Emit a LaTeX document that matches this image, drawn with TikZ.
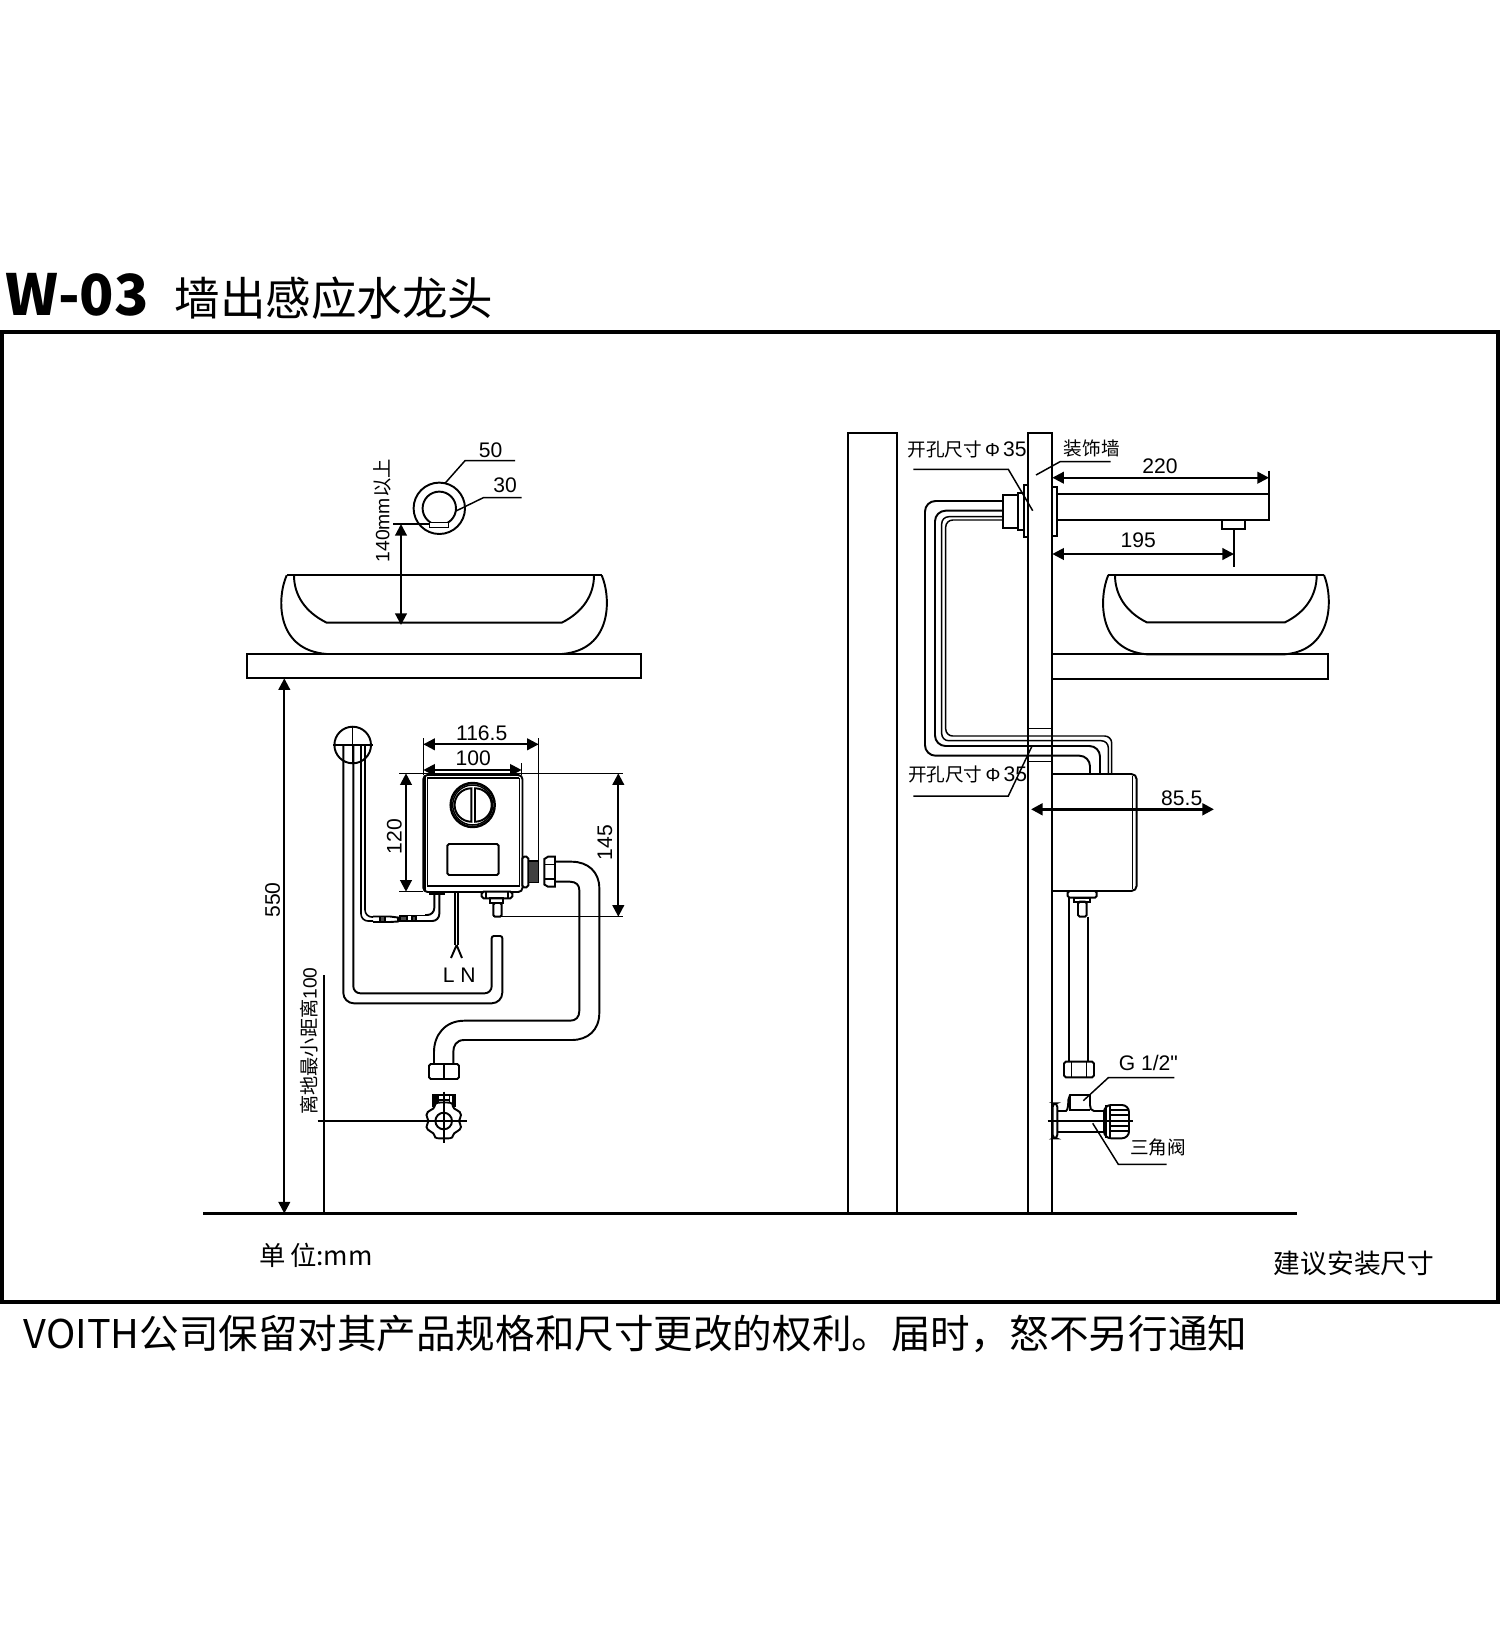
\documentclass[tikz,border=0pt]{standalone}
\usepackage{fontspec}
\setmainfont{Noto Sans CJK SC}
\newfontfamily\latinfont{Liberation Sans}
\usetikzlibrary{arrows.meta}
\tikzset{
  part/.style={line width=0.55pt},
  thinpart/.style={line width=0.42pt},
  dimline/.style={line width=0.6pt,{Triangle[length=3.3pt,width=3.3pt]}-{Triangle[length=3.3pt,width=3.3pt]}},
  dimtext/.style={font=\latinfont\fontsize{6}{6}\selectfont,inner sep=0pt},
  cjktext/.style={font=\fontsize{5.3}{6}\selectfont,inner sep=0pt},
}
\begin{document}
\begin{tikzpicture}[x=0.01cm,y=-0.01cm]
\useasboundingbox (0,0) rectangle (1500,1651);

% title and frame
\node[inner sep=0pt,anchor=west,font=\bfseries\fontsize{16.1}{18}\selectfont] (title) at (5,295) {W-03};
\node[inner sep=0pt,anchor=west,font=\fontsize{12.95}{14}\selectfont] (subtitle) at (174,298) {墙出感应水龙头};
\draw[line width=1.2pt] (2,332) rectangle (1498,1302);
\node[inner sep=0pt,anchor=west,font=\fontsize{11.25}{13}\selectfont] (notice) at (23,1334) {VOITH公司保留对其产品规格和尺寸更改的权利。届时，怒不另行通知};
\node[inner sep=0pt,font=\fontsize{7.5}{9}\selectfont] (unit) at (316,1255) {单\,位:mm};
\node[inner sep=0pt,font=\fontsize{7.6}{9}\selectfont] (advice) at (1354,1263) {建议安装尺寸};
\draw[line width=0.6pt] (203,1213.5) -- (1297,1213.5);

% left view: basin and shelf
\draw[part] (286.7,575.3) -- (601.7,575.3);
\draw[part] (286.7,575.3) .. controls (277,597) and (275,650) .. (326.7,654) -- (561.7,654) .. controls (613,650) and (611,597) .. (601.7,575.3);
\draw[part] (294,575.3) .. controls (294,595) and (305,612) .. (326.7,622.7) -- (561.7,622.7) .. controls (583,612) and (594,595) .. (594,575.3);
\draw[part] (247.3,654) rectangle (641,678.3);

% left view: spout section
\draw[part] (439.3,508.3) circle (25.7);
\draw[part] (439.3,508.3) circle (16.7);
\draw[thinpart,fill=white] (429.3,522.7) rectangle (448.3,527.3);
\draw[thinpart] (445,483.3) -- (465,460.7) -- (515,460.7);
\draw[thinpart] (456,511) -- (483.3,497.7) -- (521.7,497.7);
\node[dimtext] (dfifty) at (490.7,450) {50};
\node[dimtext] (dthirty) at (505,485) {30};
\draw[part] (393.3,524) -- (430,524);
\draw[dimline] (401,524) -- (401,625);
\node[dimtext,rotate=90,font=\latinfont\fontsize{5.5}{6}\selectfont] (dclear) at (382.3,510.8) {140mm{\fontspec{Noto Sans CJK SC}以上}};

% left view: height dimensions
\draw[dimline] (284.3,678.3) -- (284.3,1213.5);
\node[dimtext,rotate=90] (dshelf) at (272.6,900) {550};
\draw[part] (324,975) -- (324,1213.5);
\draw[part] (317.7,1121) -- (466.7,1121);
\node[dimtext,rotate=90,font=\latinfont\fontsize{5.45}{6}\selectfont] (dfloor) at (309.3,1041) {{\fontspec{Noto Sans CJK SC}离地最小距离}100};

% left view: control box
\draw[part,rounded corners=1.2pt,fill=white] (423.3,775) rectangle (522.5,892);
\draw[part] (424.6,776.3) -- (424.6,890);
\draw[thinpart] (427.3,778) -- (519.3,778) (427.3,778) -- (427.3,886) -- (519.3,886) -- (519.3,778);
\draw[line width=0.7pt] (472.7,805) circle (22);
\draw[thinpart] (472.7,805) circle (20);
\draw[part] (471.3,788.3) arc (270:90:16.7) -- cycle;
\draw[part] (475,788.3) arc (-90:90:16.7) -- cycle;
\draw[part,rounded corners=0.5pt] (447.3,844) rectangle (498.7,875);

% left view: box dimensions
\draw[thinpart] (423.3,738) -- (423.3,775);
\draw[thinpart] (538.7,738) -- (538.7,882);
\draw[thinpart] (521.7,763) -- (521.7,775);
\draw[dimline] (423.3,744.3) -- (538.7,744.3);
\draw[dimline] (423.3,770) -- (521.7,770);
\node[dimtext] (dboxb) at (481.7,733.3) {116.5};
\node[dimtext] (dboxa) at (473.3,758.3) {100};
\draw[thinpart] (399.3,773.3) -- (622.7,773.3);
\draw[thinpart] (399.3,891.7) -- (423.3,891.7);
\draw[thinpart] (493.3,916.7) -- (622.7,916.7);
\draw[dimline] (406,773.3) -- (406,891.7);
\draw[dimline] (618.3,773.3) -- (618.3,916.7);
\node[dimtext,rotate=90] (dboxh) at (394.3,836.7) {120};
\node[dimtext,rotate=90] (dinlet) at (605,842.7) {145};

% left view: fittings under the box
\draw[part] (430,891.7) rectangle (444,894.3);
\draw[part,rounded corners=2pt] (434.3,894.3) -- (434.3,915) -- (425,915);
\draw[part,rounded corners=2pt] (439.3,894.3) -- (439.3,921) -- (425,921);
\draw[part,fill=black!70] (400,916) -- (407,916) -- (407,921) -- (400,921) -- cycle;
\draw[part] (407,915.5) -- (425,915.5) (407,921) -- (425,921);
\draw[part,fill=black!70] (412,916) rectangle (416,921);
\draw[part] (373,916.5) -- (390,916.5) -- (398,917.5) -- (398,921.5) -- (390,922) -- (373,922);
\draw[part,fill=black!70] (380,916.5) rectangle (385,922);
\draw[line width=0.45pt,rounded corners=2pt] (361,745) -- (361,921) -- (373,921);
\draw[line width=0.45pt,rounded corners=2pt] (365,745) -- (365,917) -- (373,917);
\draw[part] (455,892) -- (455,945) (458.3,892) -- (458.3,945);
\draw[part] (456.6,945) -- (451,958) (456.6,945) -- (462,958);
\node[dimtext] (lnlabel) at (459.3,975.7) {L N};
\draw[part,fill=white,rounded corners=0.5pt] (481.7,891.7) rectangle (512.3,898.3);
\draw[thinpart] (486,891.7) -- (486,898.3) (508,891.7) -- (508,898.3);
\draw[part] (490,898.3) rectangle (503,903);
\draw[part,rounded corners=0.5pt] (493.3,903) rectangle (501.7,916.7);

% left view: big pipe
\draw[part] (352.7,745) circle (18.3);
\draw[thinpart] (333.3,745) -- (372.7,745) (352.7,726.7) -- (352.7,763.3);
\draw[part,rounded corners=3pt] (343.3,745) -- (343.3,1003.3) -- (502.3,1003.3) [rounded corners=0.6pt] -- (502.3,936) -- (491.7,936) [rounded corners=2pt] -- (491.7,993.3) -- (353.3,993.3) -- (353.3,745);

% left view: hose and valve
\draw[part,fill=white,rounded corners=0.5pt] (522.3,856.7) rectangle (528.3,887.3);
\draw[line width=0.3pt,fill=black!75] (528.3,861) rectangle (538.3,882.7);
\draw[part,fill=white] (544.3,859) -- (548,856.7) -- (555,856.7) -- (555,886.7) -- (548,886.7) -- (544.3,884.5) -- cycle;
\draw[thinpart] (544.3,864.5) -- (555,864.5) (544.3,879) -- (555,879);
\draw[part] (555,861.7) -- (571.7,861.7) .. controls (588,861.7) and (599.3,872) .. (599.3,888) -- (599.3,1013) .. controls (599.3,1030) and (588,1040) .. (571.7,1040) -- (464.3,1040) .. controls (456,1040) and (453.3,1046) .. (453.3,1052) -- (453.3,1064);
\draw[part] (555,881.7) -- (570,881.7) .. controls (576,881.7) and (579.3,885) .. (579.3,890) -- (579.3,1011) .. controls (579.3,1017) and (576,1020.7) .. (570,1020.7) -- (464.3,1020.7) .. controls (445,1020.7) and (434,1035) .. (434,1052) -- (434,1064);
\draw[part,rounded corners=0.5pt] (429,1064) rectangle (459,1079);
\draw[part] (443.7,1064) -- (443.7,1079);
\draw[part,line width=0.7pt] (433.3,1107) -- (433.3,1095) -- (455,1095) -- (455,1107);
\draw[line width=1pt] (435,1096) -- (435,1107) (453.3,1096) -- (453.3,1107);
\draw[thinpart] (438,1095) -- (438,1107) (449.7,1095) -- (449.7,1107) (438,1100) -- (449.7,1100);
\draw[part,fill=white] (443.7,1102.5) .. controls (449,1102.5) and (453,1102) .. (453,1106.5) .. controls (453,1110) and (461,1110) .. (461,1115) .. controls (461,1118) and (459,1119) .. (459,1121) .. controls (459,1123) and (461,1124) .. (461,1127) .. controls (461,1131) and (453,1132) .. (453,1135.5) .. controls (453,1139) and (448,1138.3) .. (443.7,1138.3) .. controls (439,1138.3) and (434.5,1139) .. (434.5,1135.5) .. controls (434.5,1132) and (426.5,1131) .. (426.5,1127) .. controls (426.5,1124) and (428.5,1123) .. (428.5,1121) .. controls (428.5,1119) and (426.5,1118) .. (426.5,1115) .. controls (426.5,1110) and (434.5,1110) .. (434.5,1106.5) .. controls (434.5,1102) and (439,1102.5) .. (443.7,1102.5) -- cycle;
\draw[part] (443.7,1121) circle (8.3);
\draw[part] (426,1121) -- (466.7,1121) (443.7,1091.7) -- (443.7,1142.7);

% right view: walls
\draw[part] (848,1213.5) -- (848,432.7) -- (897.3,432.7) -- (897.3,1213.5);
\draw[part] (1027.7,1213.5) -- (1027.7,432.7) -- (1052.3,432.7) -- (1052.3,1213.5);
\draw[thinpart] (1027.7,728.3) -- (1052.3,728.3) (1027.7,761.7) -- (1052.3,761.7);

% right view: spout
\draw[part] (1052.3,486.7) -- (1057.3,486.7) -- (1057.3,535.7) -- (1052.3,535.7);
\draw[part] (1057.3,494) -- (1269,494) -- (1269,520) -- (1057.3,520);
\draw[part] (1222.3,521) -- (1222.3,529) -- (1245,529) -- (1245,521);
\draw[part] (1234,529) -- (1234,566.7);
\draw[thinpart] (1269,470.7) -- (1269,494);
\draw[dimline] (1052.3,477.7) -- (1269,477.7);
\draw[dimline] (1052.3,554) -- (1234,554);
\node[dimtext] (dspoutl) at (1160,466) {220};
\node[dimtext] (dspouts) at (1138.3,540) {195};

% right view: wall fittings
\draw[part] (1023.7,485) rectangle (1027.7,537.3);
\draw[part] (1017.7,492.7) rectangle (1023.7,530);
\draw[part] (1002.7,495) rectangle (1017.7,527.7);
\node[cjktext] (holeup) at (967,449) {开孔尺寸{\latinfont\,Φ\,\fontsize{6}{6}\selectfont 35}};
\draw[thinpart] (913.3,469.3) -- (1008.3,469.3) -- (1032.7,510.7);
\node[cjktext] (decor) at (1091.7,448.3) {装饰墙};
\draw[thinpart] (1110.7,461.7) -- (1060,461.7) -- (1036,475);

% right view: pipes
\draw[part,rounded corners=3pt] (1002.7,501) -- (925,501) -- (925,755.7) -- (1090,755.7) -- (1090,774);
\draw[part,rounded corners=3pt] (1002.7,510.7) -- (935,510.7) -- (935,746) -- (1100,746) -- (1100,774);
\draw[thinpart,rounded corners=2pt] (1002.7,516.7) -- (941.7,516.7) -- (941.7,740.7) -- (1108.3,740.7) -- (1108.3,774);
\draw[thinpart,rounded corners=2pt] (1002.7,520) -- (945.7,520) -- (945.7,736) -- (1111.7,736) -- (1111.7,774);
\node[cjktext] (holedown) at (967.6,774) {开孔尺寸{\latinfont\,Φ\,\fontsize{6}{6}\selectfont 35}};
\draw[thinpart] (913.3,796) -- (1008.3,796) -- (1031.7,746.7);

% right view: control box
\draw[part,rounded corners=1.5pt] (1052.3,774) -- (1136.7,774) -- (1136.7,891) -- (1052.3,891);
\draw[thinpart] (1132.7,776) -- (1132.7,889);
\draw[dimline,line width=0.8pt] (1031,809.3) -- (1214,809.3);
\node[dimtext] (ddepth) at (1181.7,798.3) {85.5};
\draw[part,rounded corners=0.5pt] (1067.7,891) rectangle (1096.7,897.7);
\draw[part] (1074,897.7) rectangle (1090,901.7);
\draw[part,rounded corners=0.5pt] (1078,901.7) rectangle (1086.7,916.7);

% right view: hose and valve
\draw[part] (1069.3,897.7) -- (1069.3,1061.7) (1088.3,916.7) -- (1088.3,1061.7);
\draw[part,rounded corners=0.5pt] (1064,1061.7) rectangle (1094,1077.3);
\draw[thinpart] (1071.7,1061.7) -- (1071.7,1077.3) (1086.7,1061.7) -- (1086.7,1077.3);
\node[dimtext] (dthread) at (1148.3,1063.3) {G 1/2"};
\draw[thinpart] (1083.3,1100.7) -- (1108.3,1077.7) -- (1174.3,1077.7);
\draw[part] (1057.3,1111) -- (1066,1111) .. controls (1068,1110) and (1068.3,1104) .. (1068.3,1100) -- (1070,1095) -- (1090,1095) -- (1090,1105) .. controls (1090,1108) and (1091,1111) .. (1094,1111) -- (1104,1111);
\draw[part] (1070,1096) -- (1070,1110) -- (1090,1110);
\draw[part] (1057.3,1132.3) -- (1104,1132.3);
\draw[part,rounded corners=1pt] (1052.7,1103.3) rectangle (1057.3,1138.3);
\draw[part,rounded corners=2pt,fill=white] (1104,1105) rectangle (1129,1138.3);
\draw[thinpart] (1106,1105) -- (1106,1138.3) (1110,1105) -- (1110,1138.3);
\draw[thinpart] (1110,1110) -- (1129,1110) (1110,1115) -- (1129,1115) (1110,1126) -- (1129,1126) (1110,1131) -- (1129,1131);
\draw[part] (1047.7,1120.7) -- (1132.7,1120.7);
\draw[thinpart] (1092.7,1123.3) -- (1118.3,1164.3) -- (1166.7,1164.3);
\node[cjktext] (dvalve) at (1158.3,1147.3) {三角阀};

% right view: basin and shelf
\draw[part] (1108.3,575) -- (1324,575);
\draw[part] (1108.3,575) .. controls (1099,597) and (1097,650) .. (1146.7,654.3) -- (1285,654.3) .. controls (1334,650) and (1333,597) .. (1324,575);
\draw[part] (1115,575) .. controls (1115,595) and (1126,612) .. (1146.7,622.3) -- (1285,622.3) .. controls (1306,612) and (1316.7,595) .. (1316.7,575);
\draw[part] (1052.3,654.3) -- (1328.3,654.3) -- (1328.3,679.3) -- (1052.3,679.3);
\end{tikzpicture}
\end{document}
